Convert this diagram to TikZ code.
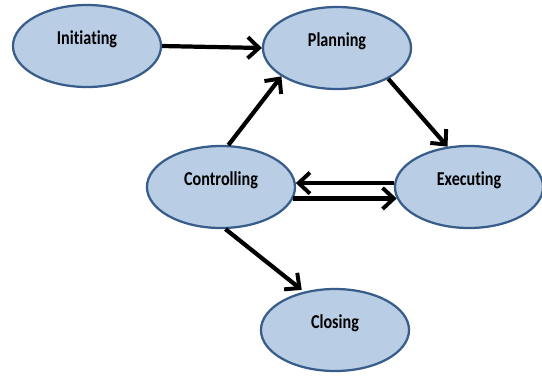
\documentclass[tikz,border=0pt]{standalone}
\usepackage{fontspec}
\usepackage{tikz}
\usetikzlibrary{shapes.geometric,arrows.meta}
\newfontfamily\stagefont[FakeStretch=0.82,RawFeature=-liga]{Carlito}
\definecolor{stagefill}{RGB}{185,205,229}
\definecolor{stageline}{RGB}{56,93,138}

\begin{document}
\begin{tikzpicture}[x=0.025cm,y=-0.025cm,
		stage/.style={ellipse, draw=stageline, fill=stagefill, line width=1.6pt,
			minimum width=3.7cm, minimum height=2.05cm, inner sep=0pt,
			text height=0.37cm, text depth=0.45cm, font=\stagefont\bfseries\fontsize{14}{16}\selectfont},
		flow/.style={line width=3pt, -{Straight Barb[length=8pt,width=15pt,line width=2.8pt]}}]
			\useasboundingbox (0,0) rectangle (542,377);
			\node[stage] (init) at (87,46) {Initiating};
			\node[stage] (plan) at (337,48) {Planning};
			\node[stage] (ctrl) at (221,187) {Controlling};
			\node[stage] (exec) at (469,187) {Executing};
			\node[stage] (clos) at (335,330) {Closing};
			\draw[flow] (init.east) -- (plan.west);
			\draw[flow] (ctrl.80) -- (plan.207);
			\draw[flow] (plan.329) -- (exec.118);
			\draw[flow] (exec.177) -- (ctrl.3);
			\draw[flow] (ctrl.-9) -- (exec.189);
			\draw[flow, shorten >=2pt] (ctrl.-84) -- (clos.129);
		\end{tikzpicture}
\end{document}
